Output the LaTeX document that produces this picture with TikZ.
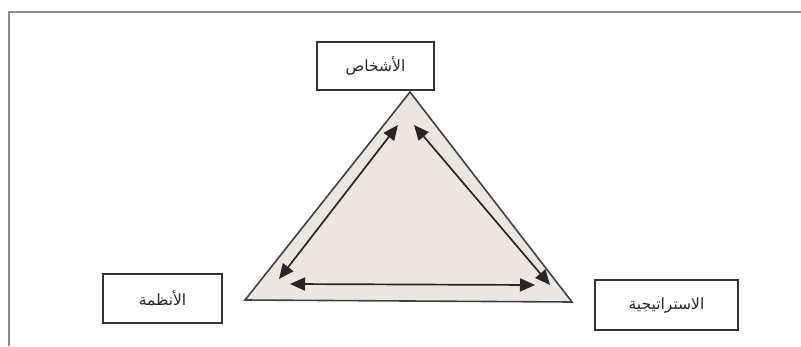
\documentclass[tikz,border=0pt]{standalone}
\usepackage{fontspec}
\newfontfamily\arabicfont[Script=Arabic]{DejaVu Sans}
\TeXXeTstate=1
\usetikzlibrary{arrows.meta}
\begin{document}
\begin{tikzpicture}[x=1pt,y=-1pt,
  labelbox/.style={draw=black!80,line width=1.6pt,fill=white,inner sep=0pt,font=\arabicfont\fontsize{15.5}{17}\selectfont,text=black!85},
  dblarrow/.style={draw=black!85,line width=1.7pt,{Triangle[length=15pt,width=13pt]}-{Triangle[length=15pt,width=13pt]}},
  framel/.style={draw=black!45,line width=1.6pt}]
\useasboundingbox (0,0) rectangle (801,346);
% outer frame
\draw[framel] (9,346) -- (9,12) -- (801,12);
% triangle
\coordinate (apex) at (410,92);
\coordinate (bl) at (245,300);
\coordinate (br) at (572,302);
\filldraw[fill={rgb,255:red,236;green,230;blue,224},draw=black!75,line width=1.6pt,line join=miter] (apex) -- (br) -- (bl) -- cycle;
% labels
\node[labelbox,minimum width=117pt,minimum height=48pt] (people) at (375.5,66) {\beginR الأشخاص\endR};
\node[labelbox,minimum width=119pt,minimum height=49pt] (systems) at (162.5,298.5) {\beginR الأنظمة\endR};
\node[labelbox,minimum width=143pt,minimum height=50pt] (strategy) at (666.5,305) {\beginR الاستراتيجية\endR};
% arrow endpoints
\coordinate (l1) at (279,279);
\coordinate (l2) at (398,125);
\coordinate (r1) at (414,125);
\coordinate (r2) at (550,285);
\coordinate (b1) at (290,284);
\coordinate (b2) at (535,285);
\draw[dblarrow] (l1) -- (l2);
\draw[dblarrow] (r1) -- (r2);
\draw[dblarrow] (b1) -- (b2);
\end{tikzpicture}
\end{document}
